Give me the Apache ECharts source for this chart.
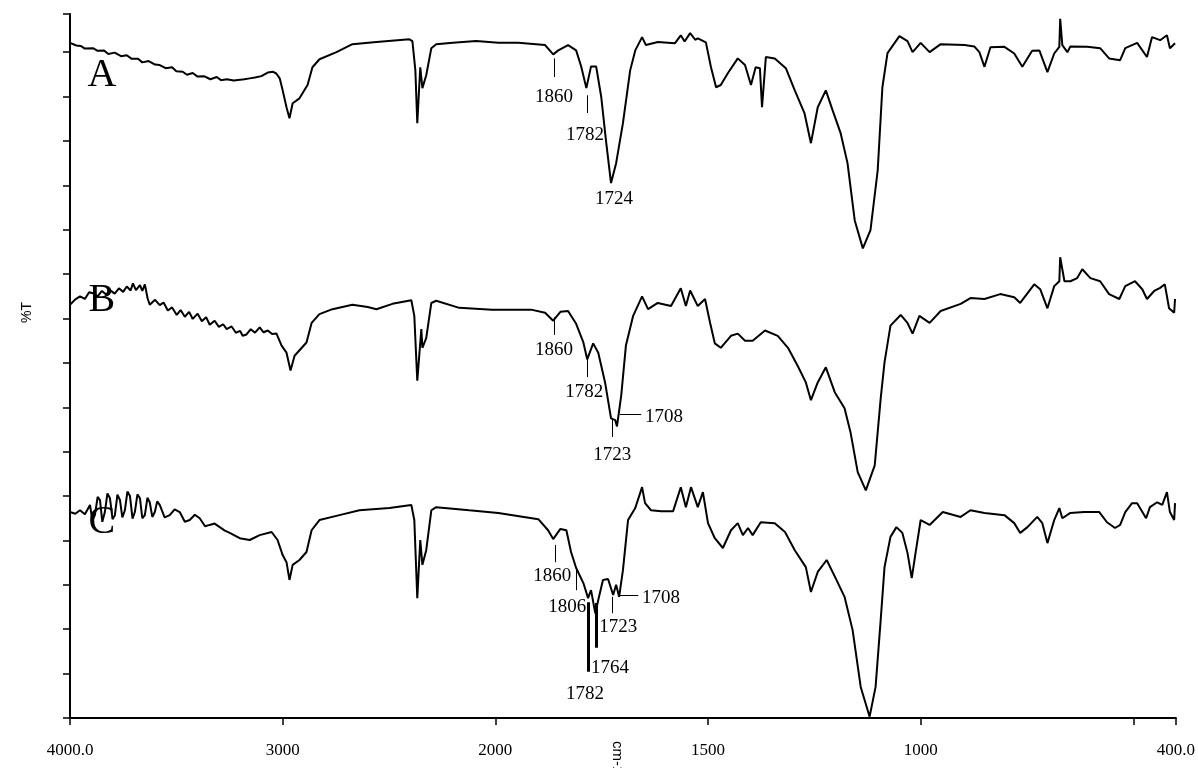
<!DOCTYPE html>
<html>
<head>
<meta charset="utf-8">
<script src="https://cdn.jsdelivr.net/npm/echarts@6/dist/echarts.min.js"></script>
<style>
html, body { margin: 0; padding: 0; background: #fff; }
#chart { width: 1198px; height: 768px; }
</style>
</head>
<body>
<div id="chart"></div>
<script>
// spectrum A : wavenumber (cm-1) / %T (offset trace)
var wnA = [4000, 3970, 3950, 3930, 3892, 3870, 3840, 3820, 3790, 3760, 3733, 3710, 3680, 3660, 3630, 3600, 3578, 3550, 3520, 3500, 3470, 3450, 3423, 3400, 3370, 3340, 3310, 3290, 3263, 3230, 3200, 3180, 3155, 3130, 3100, 3070, 3047, 3030, 3014, 3000, 2982, 2968, 2953, 2921, 2883, 2860, 2827, 2747, 2672, 2559, 2404, 2390, 2376, 2367, 2353, 2343, 2325, 2301, 2278, 2200, 2090, 1993, 1946, 1883, 1864, 1852, 1829, 1810, 1798, 1786, 1775, 1763, 1751, 1740, 1728, 1716, 1700, 1683, 1671, 1655, 1646, 1618, 1578, 1564, 1555, 1542, 1530, 1524, 1505, 1493, 1481, 1470, 1453, 1430, 1413, 1399, 1388, 1378, 1373, 1364, 1343, 1317, 1296, 1273, 1258, 1242, 1223, 1207, 1188, 1172, 1155, 1136, 1118, 1101, 1090, 1078, 1050, 1031, 1019, 1000, 979, 953, 897, 874, 862, 850, 836, 803, 780, 761, 738, 721, 702, 686, 674, 672, 667, 655, 648, 608, 578, 557, 531, 519, 491, 468, 456, 437, 421, 414, 402];
var tA = [152.1, 151.5, 151.4, 150.8, 150.9, 150.3, 150.4, 149.6, 149.9, 149.1, 149.3, 148.5, 148.5, 147.7, 148.0, 147.2, 147.1, 146.4, 146.6, 145.7, 145.6, 144.9, 145.3, 144.5, 144.6, 143.9, 144.4, 143.7, 143.9, 143.6, 143.8, 143.9, 144.1, 144.3, 144.6, 145.4, 145.6, 145.2, 144.1, 141.4, 137.6, 135.1, 138.5, 139.6, 142.6, 146.6, 148.4, 150.0, 151.8, 152.3, 152.9, 152.5, 145.9, 134.0, 146.6, 141.9, 144.8, 150.9, 151.8, 152.1, 152.5, 152.1, 152.1, 151.6, 149.5, 150.4, 151.6, 150.4, 146.7, 141.9, 146.8, 146.8, 139.9, 130.2, 120.5, 125.0, 134.0, 145.9, 150.4, 153.4, 151.6, 152.3, 152.0, 153.8, 152.4, 154.3, 152.8, 153.1, 152.2, 146.6, 142.1, 142.6, 145.3, 148.6, 147.1, 142.6, 146.6, 146.4, 137.6, 148.9, 148.6, 146.4, 141.4, 136.2, 129.5, 137.6, 141.4, 136.9, 131.7, 125.0, 112.1, 105.8, 109.9, 123.4, 142.1, 149.8, 153.6, 152.5, 150.0, 152.1, 150.0, 151.8, 151.6, 151.3, 150.0, 146.7, 151.1, 151.2, 149.7, 146.7, 150.3, 150.4, 145.5, 149.7, 151.2, 157.5, 151.6, 150.0, 151.3, 151.2, 150.9, 148.6, 148.2, 150.9, 152.1, 148.9, 153.4, 152.7, 153.8, 150.9, 152.0];

// spectrum B
var wnB = [4000, 3975, 3953, 3930, 3910, 3892, 3870, 3850, 3830, 3812, 3790, 3770, 3750, 3733, 3715, 3704, 3690, 3671, 3660, 3648, 3635, 3625, 3600, 3578, 3560, 3540, 3520, 3498, 3480, 3460, 3440, 3423, 3400, 3380, 3360, 3343, 3320, 3300, 3280, 3263, 3240, 3220, 3200, 3188, 3170, 3150, 3130, 3108, 3090, 3070, 3050, 3029, 3005, 2982, 2963, 2944, 2888, 2864, 2827, 2766, 2672, 2600, 2559, 2484, 2395, 2381, 2367, 2348, 2343, 2325, 2301, 2278, 2170, 2015, 1916, 1883, 1864, 1847, 1829, 1810, 1793, 1784, 1770, 1758, 1742, 1728, 1718, 1714, 1704, 1693, 1676, 1655, 1641, 1618, 1587, 1564, 1552, 1542, 1524, 1507, 1495, 1484, 1470, 1446, 1430, 1413, 1395, 1366, 1336, 1312, 1289, 1270, 1258, 1242, 1223, 1202, 1179, 1165, 1148, 1129, 1108, 1094, 1085, 1071, 1047, 1031, 1019, 1003, 979, 953, 906, 883, 850, 813, 780, 766, 733, 719, 702, 686, 674, 672, 662, 648, 632, 620, 601, 578, 557, 533, 519, 496, 479, 468, 451, 437, 426, 416, 404, 402];
var tB = [93.1, 94.3, 95.0, 94.4, 95.9, 95.7, 95.0, 96.2, 95.4, 96.4, 95.6, 96.8, 96.0, 97.2, 96.3, 97.9, 96.4, 97.5, 96.2, 97.7, 94.5, 93.1, 94.2, 93.0, 93.6, 91.8, 92.5, 90.8, 91.9, 90.4, 91.5, 89.9, 91.1, 89.4, 90.3, 88.6, 89.5, 88.1, 88.7, 87.6, 88.2, 86.8, 87.2, 86.1, 86.4, 87.6, 86.8, 88.0, 86.9, 87.3, 86.5, 86.6, 83.9, 82.3, 78.3, 81.6, 84.6, 89.0, 91.0, 92.1, 93.1, 92.6, 92.1, 93.3, 94.1, 90.6, 76.0, 87.6, 83.4, 85.6, 93.5, 94.0, 92.4, 92.0, 92.0, 91.3, 89.5, 91.5, 91.7, 88.8, 84.6, 80.8, 84.4, 82.3, 75.6, 67.5, 67.1, 65.7, 72.7, 83.9, 90.6, 95.0, 92.1, 93.5, 92.8, 96.8, 92.8, 96.3, 92.8, 94.4, 89.0, 84.4, 83.4, 86.1, 86.6, 85.0, 85.0, 87.3, 86.1, 83.4, 79.3, 75.6, 71.6, 75.6, 79.0, 73.4, 69.8, 64.4, 55.4, 51.3, 56.9, 72.0, 80.1, 88.4, 90.8, 89.0, 86.6, 90.6, 89.0, 91.7, 93.3, 94.6, 94.4, 95.5, 94.8, 93.5, 97.7, 96.6, 92.3, 97.3, 98.4, 103.8, 98.4, 98.4, 99.1, 101.1, 99.1, 98.4, 95.5, 94.4, 97.3, 98.4, 96.6, 94.4, 96.2, 96.9, 97.7, 92.3, 91.3, 94.4];

// spectrum C
var wnC = [4000, 3975, 3953, 3930, 3906, 3895, 3883, 3870, 3859, 3848, 3836, 3824, 3812, 3800, 3789, 3777, 3765, 3754, 3742, 3730, 3718, 3706, 3695, 3683, 3671, 3660, 3648, 3636, 3625, 3613, 3601, 3590, 3578, 3555, 3531, 3508, 3484, 3460, 3437, 3413, 3390, 3365, 3343, 3320, 3296, 3272, 3249, 3202, 3155, 3108, 3052, 3024, 3000, 2982, 2968, 2953, 2921, 2888, 2864, 2827, 2733, 2639, 2498, 2395, 2381, 2367, 2353, 2343, 2325, 2301, 2278, 2123, 1993, 1899, 1876, 1864, 1847, 1833, 1822, 1810, 1793, 1782, 1775, 1765, 1758, 1747, 1735, 1723, 1716, 1709, 1700, 1688, 1671, 1655, 1648, 1634, 1610, 1582, 1564, 1552, 1540, 1524, 1512, 1500, 1484, 1465, 1446, 1430, 1418, 1406, 1395, 1376, 1343, 1319, 1296, 1270, 1258, 1242, 1221, 1200, 1179, 1160, 1141, 1120, 1106, 1094, 1085, 1071, 1057, 1043, 1031, 1021, 1012, 1000, 979, 948, 906, 883, 850, 803, 780, 766, 749, 726, 714, 702, 686, 674, 667, 648, 616, 580, 562, 543, 531, 519, 503, 491, 470, 461, 444, 432, 421, 414, 404, 402];
var tC = [46.4, 46.0, 46.8, 45.9, 48.0, 44.5, 45.7, 49.8, 49.1, 44.2, 46.4, 50.6, 49.5, 44.8, 45.7, 50.3, 49.1, 45.2, 46.8, 51.0, 50.0, 44.9, 46.4, 50.4, 49.5, 45.0, 45.7, 49.6, 48.6, 45.3, 46.4, 48.8, 48.0, 45.2, 45.7, 47.0, 46.4, 44.2, 44.6, 45.8, 45.0, 43.2, 43.5, 43.8, 43.0, 42.2, 41.7, 40.5, 40.1, 41.2, 41.9, 40.1, 36.7, 35.1, 31.1, 34.5, 35.6, 37.4, 42.3, 44.6, 45.7, 46.8, 47.3, 48.0, 44.6, 27.0, 40.1, 34.5, 37.8, 46.8, 47.5, 46.8, 46.2, 44.8, 42.3, 40.3, 42.6, 42.3, 37.4, 33.8, 30.4, 27.0, 28.8, 23.6, 26.6, 31.1, 31.3, 27.7, 30.0, 27.3, 33.3, 44.6, 47.3, 52.0, 48.4, 46.8, 46.6, 46.6, 52.0, 47.5, 52.0, 47.5, 50.9, 43.9, 40.5, 38.3, 42.3, 43.9, 41.2, 42.8, 41.2, 44.1, 43.9, 41.9, 37.8, 34.0, 28.4, 32.9, 35.6, 31.5, 27.3, 19.8, 7.0, 0.3, 7.0, 22.1, 34.0, 40.8, 43.0, 41.7, 37.2, 31.5, 37.2, 44.6, 43.5, 46.4, 45.3, 46.8, 46.2, 45.7, 43.9, 41.7, 43.0, 45.3, 43.9, 39.4, 44.6, 47.3, 45.0, 46.2, 46.4, 46.4, 44.1, 42.8, 43.5, 46.4, 48.4, 48.4, 45.0, 47.5, 48.6, 48.0, 50.9, 46.4, 44.6, 48.4];

// x tick labels by wavenumber
var tickNames = {4000: '4000.0', 3000: '3000', 2000: '2000', 1500: '1500', 1000: '1000', 500: '', 400: '400.0'};

// trace letters
var traceNames = ['A', 'B', 'C'];
var traceNameW = [3850, 3850, 3850];
var traceNameT = [144.8, 94.1, 44.1];

// peak labels
var noteText = ['1860', '1782', '1724', '1860', '1782', '1723', '1708', '1860', '1806', '1782', '1764', '1723', '1708'];
var noteW = [1862, 1789, 1721, 1862, 1791, 1725, 1648, 1866, 1831, 1789, 1775, 1711, 1655];
var noteT = [139.9, 131.3, 116.9, 82.9, 73.4, 59.2, 67.8, 32.0, 25.0, 5.4, 11.3, 20.5, 27.0];
var noteLeft = [false, false, false, false, false, false, true, false, false, false, true, false, true];

// leader lines: [w1, t1, w2, t2]
var leaderLines = [
    [1862, 148.6, 1862, 144.4], [1784, 140.3, 1784, 136.3],
    [1862, 90.3, 1862, 86.3], [1784, 81.3, 1784, 76.8], [1725, 67.6, 1725, 63.3], [1707, 68.5, 1657, 68.5],
    [1859, 39.0, 1859, 35.1], [1810, 33.8, 1810, 28.8], [1782, 26.1, 1782, 10.4], [1763, 25.9, 1763, 15.8],
    [1725, 27.3, 1725, 23.6], [1707, 27.7, 1664, 27.7]
];
var leaderWidth = [1, 1, 1, 1, 1, 1, 1, 1, 3, 3, 1, 1];

// scale doubles below 2000 cm-1
function toAxis(w) {
    return w >= 2000 ? 4000 - w : 2000 + 2 * (2000 - w);
}
function fromAxis(u) {
    return u <= 2000 ? 4000 - u : 2000 - (u - 2000) / 2;
}
function pairs(wn, t) {
    var out = [];
    for (var i = 0; i < wn.length; i++) out.push([toAxis(wn[i]), t[i]]);
    return out;
}

var chart = echarts.init(document.getElementById('chart'));
var serif = 'Liberation Serif, Times New Roman, serif';

function trace(wn, t) {
    return {
        type: 'line', data: pairs(wn, t), showSymbol: false, symbol: 'none',
        lineStyle: {color: '#000', width: 2}, itemStyle: {color: '#000'}, silent: true, clip: false
    };
}

var lineData = leaderLines.map(function (l, i) {
    return {
        coords: [[toAxis(l[0]), l[1]], [toAxis(l[2]), l[3]]],
        lineStyle: {width: leaderWidth[i]}
    };
});

var noteData = noteText.map(function (txt, i) {
    return {
        value: [toAxis(noteW[i]), noteT[i]],
        label: {formatter: txt, align: noteLeft[i] ? 'left' : 'center'}
    };
});

var letterData = traceNames.map(function (n, i) {
    return {value: [toAxis(traceNameW[i]), traceNameT[i]], label: {formatter: n}};
});

var option = {
    animation: false,
    backgroundColor: '#fff',
    grid: {left: 70, right: 20, top: 14, bottom: 50},
    xAxis: {
        type: 'value', min: 0, max: 5200, interval: 1000,
        axisLine: {lineStyle: {color: '#000', width: 2}},
        axisTick: {show: true, length: 7, lineStyle: {color: '#000', width: 1.5}},
        splitLine: {show: false},
        axisLabel: {
            margin: 24, color: '#000', fontFamily: serif, fontSize: 17,
            showMinLabel: true, showMaxLabel: true,
            formatter: function (u) {
                var w = Math.round(fromAxis(u));
                return tickNames[w] !== undefined ? tickNames[w] : '';
            }
        }
    },
    yAxis: {
        type: 'value', min: 0, max: 158.6, interval: 10,
        axisLine: {show: true, lineStyle: {color: '#000', width: 2}},
        axisTick: {show: true, length: 7, lineStyle: {color: '#000', width: 1.5}},
        axisLabel: {show: false},
        splitLine: {show: false}
    },
    graphic: [
        {type: 'text', left: 20, top: 302, rotation: Math.PI / 2,
         style: {text: '%T', font: '14px Liberation Sans, Arial, sans-serif', fill: '#000'}},
        {type: 'text', x: 617, y: 741, rotation: -Math.PI / 2,
         style: {text: 'cm-1', font: '15px Liberation Sans, Arial, sans-serif', fill: '#000',
                 align: 'left', verticalAlign: 'middle'}}
    ],
    series: [
        trace(wnA, tA),
        trace(wnB, tB),
        trace(wnC, tC),
        {
            type: 'lines', coordinateSystem: 'cartesian2d', data: lineData, silent: true,
            lineStyle: {color: '#000', width: 1, opacity: 1}
        },
        {
            type: 'scatter', data: noteData, symbolSize: 0, silent: true,
            itemStyle: {opacity: 1},
            label: {show: true, position: 'inside', verticalAlign: 'middle', color: '#000', opacity: 1,
                    fontFamily: serif, fontSize: 19}
        },
        {
            type: 'scatter', data: letterData, symbolSize: 0, silent: true,
            itemStyle: {opacity: 1},
            label: {show: true, position: 'inside', align: 'center', verticalAlign: 'middle', color: '#000', opacity: 1,
                    fontFamily: serif, fontSize: 40}
        }
    ]
};
chart.setOption(option);
</script>
</body>
</html>
